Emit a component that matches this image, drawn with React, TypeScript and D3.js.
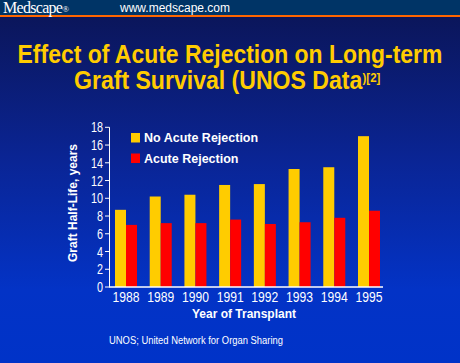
import React from "react";
import * as d3 from "d3";

const years = ["1988", "1989", "1990", "1991", "1992", "1993", "1994", "1995"];
const noAcuteRejection = [8.7, 10.2, 10.4, 11.5, 11.6, 13.3, 13.5, 17.0];
const acuteRejection = [7.0, 7.2, 7.2, 7.6, 7.1, 7.3, 7.8, 8.6];
const yTicks = [0, 2, 4, 6, 8, 10, 12, 14, 16, 18];
const seriesNames = ["No Acute Rejection", "Acute Rejection"];
const seriesColors = ["#FFCC00", "#FF0000"];

const W = 460;
const H = 363;
const font = "'Liberation Sans', Arial, sans-serif";

export default function App() {
  const x = d3.scaleBand<string>().domain(years).range([115, 380]).paddingInner(0.366).paddingOuter(0);
  const y = d3.scaleLinear().domain([0, 18]).range([287, 127.3]);
  const half = x.bandwidth() / 2;
  const series = [noAcuteRejection, acuteRejection];

  return (
    <svg width={W} height={H} style={{ position: "absolute", left: 0, top: 0, display: "block" }}>
      <defs>
        <linearGradient id="bg" x1="0" y1="0" x2="0" y2="1">
          <stop offset="0" stopColor="#0b1454" />
          <stop offset="0.45" stopColor="#0a2596" />
          <stop offset="0.8" stopColor="#0333c6" />
          <stop offset="1" stopColor="#0033c8" />
        </linearGradient>
      </defs>
      <rect x={0} y={0} width={W} height={H} fill="url(#bg)" />
      <rect x={0} y={0} width={W} height={15} fill="#003466" />
      <rect x={0} y={15} width={W} height={2} fill="#ff6600" />
      <text x={3} y={12.5} fill="#fff" fontFamily="'Liberation Serif', 'Times New Roman', serif" fontSize={16} letterSpacing={-0.7}>
        Medscape<tspan fontSize={9} dy={-1}>®</tspan>
      </text>
      <text x={120} y={12} fill="#fff" fontFamily={font} fontSize={12}>www.medscape.com</text>

      <text transform="translate(230,63) scale(0.9,1)" textAnchor="middle" fill="#FFCC00" fontFamily={font} fontWeight="bold" fontSize={25.5}>
        Effect of Acute Rejection on Long-term
      </text>
      <text transform="translate(74,89) scale(0.905,1)" fill="#FFCC00" fontFamily={font} fontWeight="bold" fontSize={25.5}>
        Graft Survival (UNOS Data
      </text>
      <text transform="translate(362.5,82) scale(0.85,1)" fill="#FFCC00" fontFamily={font} fontWeight="bold" fontSize={13.5}>
        )[2]
      </text>

      {/* bars */}
      {series.map((vals, si) =>
        vals.map((v, i) => (
          <rect
            key={si + "-" + i}
            x={(x(years[i]) as number) + si * half}
            y={y(v)}
            width={half}
            height={y(0) - y(v)}
            fill={seriesColors[si]}
          />
        ))
      )}

      {/* y axis */}
      <line x1={109.5} x2={109.5} y1={y(18)} y2={y(0)} stroke="#fff" strokeWidth={1} />
      {yTicks.map((t) => (
        <g key={t}>
          <line x1={105} x2={109.5} y1={y(t)} y2={y(t)} stroke="#fff" strokeWidth={1} />
          <text x={103} y={y(t) + 5} textAnchor="end" fill="#fff" fontFamily={font} fontSize={14}
            textLength={t >= 10 ? 12 : 6} lengthAdjust="spacingAndGlyphs">
            {t}
          </text>
        </g>
      ))}
      {/* x axis */}
      <line x1={109} x2={383} y1={287} y2={287} stroke="#fff" strokeWidth={1.5} />
      {years.map((yr) => (
        <text key={yr} x={(x(yr) as number) + half - 13.5} y={302} fill="#fff" fontFamily={font} fontSize={14}
          textLength={27} lengthAdjust="spacingAndGlyphs">
          {yr}
        </text>
      ))}

      {/* legend */}
      {seriesNames.map((n, i) => (
        <g key={n}>
          <rect x={131} y={133 + i * 20.5} width={9} height={9.5} fill={seriesColors[i]} />
          <text x={144} y={142 + i * 20.5} fill="#fff" fontFamily={font} fontWeight="bold" fontSize={12.5}>
            {n}
          </text>
        </g>
      ))}

      <text
        transform="translate(77,203) rotate(-90)"
        textAnchor="middle"
        fill="#fff"
        fontFamily={font}
        fontWeight="bold"
        fontSize={12}
      >
        Graft Half-Life, years
      </text>
      <text x={244} y={318} textAnchor="middle" fill="#fff" fontFamily={font} fontWeight="bold" fontSize={12}>
        Year of Transplant
      </text>
      <text x={109} y={344} fill="#fff" fontFamily={font} fontSize={11} textLength={174} lengthAdjust="spacingAndGlyphs">
        UNOS; United Network for Organ Sharing
      </text>
    </svg>
  );
}
